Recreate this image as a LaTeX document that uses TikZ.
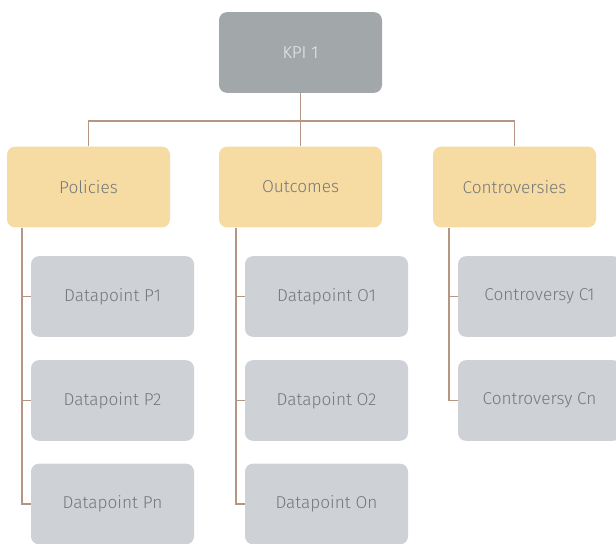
\documentclass[tikz,border=0pt]{standalone}
\usepackage{fontspec}
\setmainfont{Fira Sans}[UprightFont=* Light]
\definecolor{kpigray}{HTML}{A2A7AA}
\definecolor{catyellow}{HTML}{F6DCA3}
\definecolor{dpgray}{HTML}{CED2D6}
\definecolor{txtgray}{HTML}{75787A}
\definecolor{linebrown}{HTML}{B59683}
\begin{document}
\begin{tikzpicture}[x=0.75pt,y=-0.75pt,
  box/.style={rounded corners=6pt,minimum width=122.25pt,minimum height=60.5pt,inner sep=0pt,font=\fontsize{12.9}{14}\selectfont,text=txtgray},
  kpibox/.style={box,fill=kpigray,text=white!92!black},
  catbox/.style={box,fill=catyellow},
  dpbox/.style={box,fill=dpgray},
  link/.style={draw=linebrown,line width=1.1pt}]
\clip (0,0) rectangle (616,543);
\fill[white] (0,0) rectangle (616,543);
\node[kpibox] (kpi) at (300.5,52.5) {KPI 1};
\node[catbox] (pol) at (88.5,187) {Policies};
\node[catbox] (out) at (300.5,187) {Outcomes};
\node[catbox] (con) at (514.5,187) {Controversies};
\node[dpbox] (p1) at (112.5,296.5) {Datapoint P1};
\node[dpbox] (p2) at (112.5,400.5) {Datapoint P2};
\node[dpbox] (pn) at (112.5,504) {Datapoint Pn};
\node[dpbox] (o1) at (326.5,296.5) {Datapoint O1};
\node[dpbox] (o2) at (326.5,400.5) {Datapoint O2};
\node[dpbox] (on) at (326.5,504) {Datapoint On};
\node[dpbox] (c1) at (539.5,296.5) {Controversy C1};
\node[dpbox] (cn) at (539.5,400.5) {Controversy Cn};
\coordinate (bus) at (300.5,121);
\coordinate (pl) at (22,227.5);
\coordinate (ol) at (236,227.5);
\coordinate (cl) at (449,227.5);
\draw[link] (kpi.south) -- (out.north);
\draw[link] (pol.north) |- (bus) -| (con.north);
\draw[link] (pl) |- (pn.west);
\draw[link] (pl |- p1.west) -- (p1.west);
\draw[link] (pl |- p2.west) -- (p2.west);
\draw[link] (ol) |- (on.west);
\draw[link] (ol |- o1.west) -- (o1.west);
\draw[link] (ol |- o2.west) -- (o2.west);
\draw[link] (cl) |- (cn.west);
\draw[link] (cl |- c1.west) -- (c1.west);
\end{tikzpicture}
\end{document}
